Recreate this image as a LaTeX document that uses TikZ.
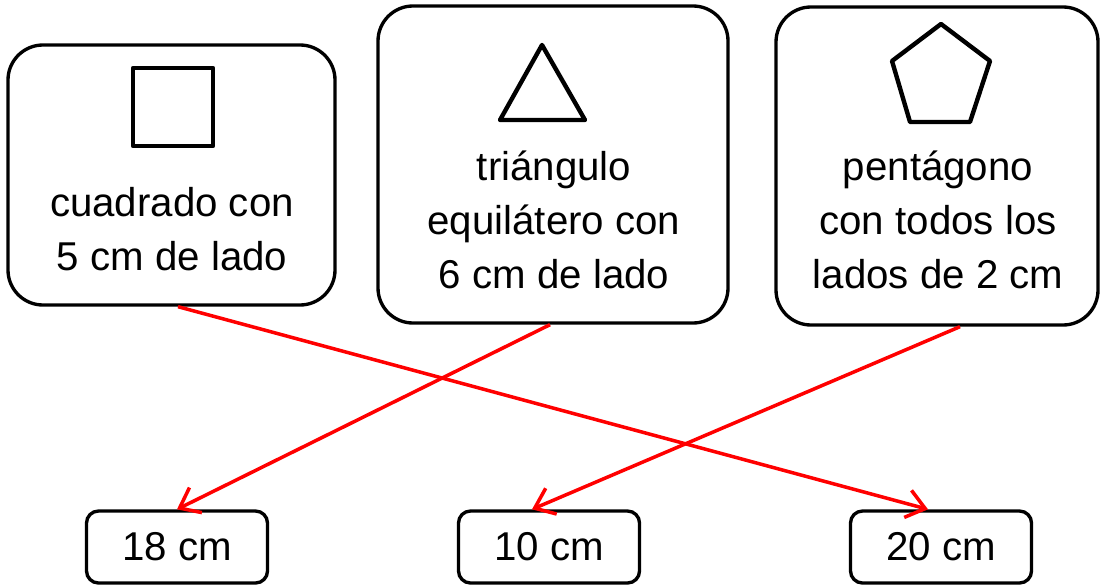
\documentclass[tikz,border=0pt]{standalone}
\usepackage{fontspec}
\setmainfont{Liberation Sans}
\usetikzlibrary{arrows.meta}

\begin{document}
\begin{tikzpicture}[%
      x=0.02cm, y=-0.02cm,
      bigbox/.style={draw, line width=1.9pt, rounded corners=0.7cm},
      smallbox/.style={draw, line width=1.9pt, rounded corners=0.24cm,
        minimum width=181*0.02cm, minimum height=72*0.02cm,
        font=\fontsize{22.9}{30.8}\selectfont},
      caption/.style={align=center, font=\fontsize{22.9}{30.8}\selectfont},
      figure/.style={draw, line width=2.5pt, line join=round},
      link/.style={draw=red, line width=2pt, -{Straight Barb[length=3.6mm,width=5.6mm]}},
      ]
      \useasboundingbox (0,0) rectangle (1101,585);

      % boxes with the figures
      \node [bigbox, minimum width=327*0.02cm, minimum height=260*0.02cm] (sq) at (171.5,175) {};
      \node [bigbox, minimum width=350*0.02cm, minimum height=317*0.02cm] (tri) at (553,164.5) {};
      \node [bigbox, minimum width=322*0.02cm, minimum height=318*0.02cm] (pent) at (937,166) {};

      \draw [figure] (133,68) rectangle (213,146);
      \draw [figure] (500,120) -- (542,45) -- (585,120) -- cycle;
      \draw [figure] (941,24) -- (990,61) -- (970,122) -- (910,122) -- (892,61) -- cycle;

      \node [caption] (sqtext) at (172,229) {cuadrado con\\5 cm de lado};
      \node [caption] (tritext) at (554,220) {triángulo\\equilátero con\\6 cm de lado};
      \node [caption] (penttext) at (938,219.5) {pentágono\\con todos los\\lados de 2 cm};

      % boxes with the lengths
      \node [smallbox] (b18) at (177,547) {\raisebox{-2pt}{18 cm}};
      \node [smallbox] (b10) at (549,547) {\raisebox{-2pt}{10 cm}};
      \node [smallbox] (b20) at (941,547) {\raisebox{-2pt}{20 cm}};

      \draw [link] ([xshift=0.13cm]sq.south) -- ([xshift=-0.26cm]b20.north);
      \draw [link] ([xshift=-0.06cm]tri.south) -- (b18.north);
      \draw [link] ([xshift=0.46cm]pent.south) -- ([xshift=-0.34cm]b10.north);
      \end{tikzpicture}
\end{document}
